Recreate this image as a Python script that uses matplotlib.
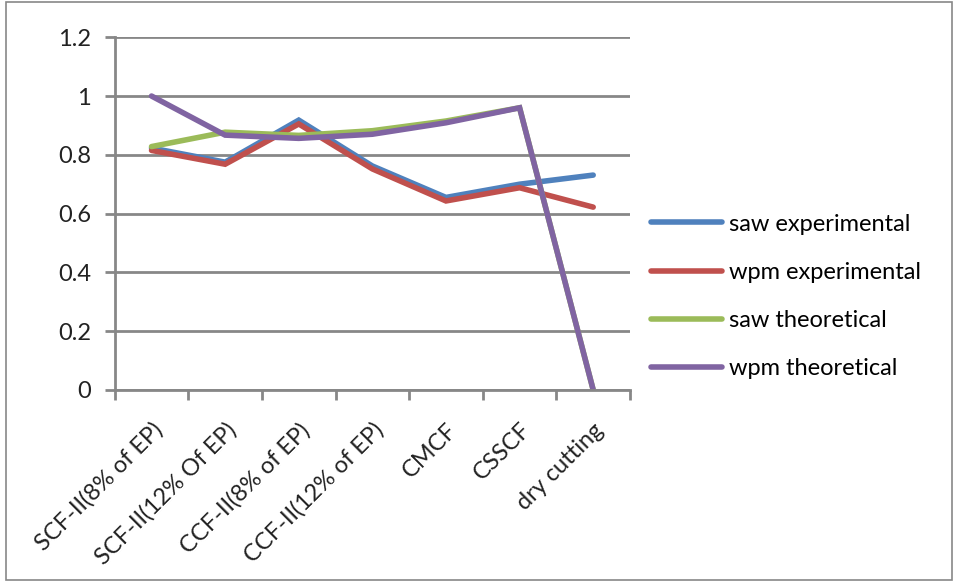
import matplotlib.pyplot as plt
from matplotlib.patches import Rectangle
from matplotlib.ticker import FixedLocator

categories = ["SCF-II(8% of EP)", "SCF-II(12% Of EP)", "CCF-II(8% of EP)",
              "CCF-II(12% of EP)", "CMCF", "CSSCF", "dry cutting"]
saw_exp = [0.823, 0.775, 0.918, 0.762, 0.655, 0.700, 0.731]
wpm_exp = [0.815, 0.768, 0.905, 0.752, 0.643, 0.688, 0.622]
saw_theo = [0.828, 0.877, 0.866, 0.882, 0.915, 0.960, 0.0]
wpm_theo = [1.0, 0.867, 0.856, 0.870, 0.909, 0.960, 0.0]
yticks = [0, 0.2, 0.4, 0.6, 0.8, 1.0, 1.2]
ytick_labels = ["0", "0.2", "0.4", "0.6", "0.8", "1", "1.2"]

series = [
    ("saw experimental", saw_exp, "#4F81BD"),
    ("wpm experimental", wpm_exp, "#C0504D"),
    ("saw theoretical", saw_theo, "#9BBB59"),
    ("wpm theoretical", wpm_theo, "#8064A2"),
]

plt.rcParams["font.family"] = ["Lato", "DejaVu Sans"]
fs = 17

fig = plt.figure(figsize=(9.56, 5.82), dpi=100)
ax = fig.add_axes([0.120, 0.330, 0.539, 0.606])

x = list(range(len(categories)))
for name, vals, col in series:
    ax.plot(x, vals, color=col, lw=4, label=name, solid_capstyle="round",
            solid_joinstyle="miter")

ax.set_xlim(-0.5, len(categories) - 0.5)
ax.set_ylim(0, 1.2)
ax.set_yticks(yticks)
ax.set_yticklabels(ytick_labels)
ax.grid(axis="y", color="#878787", lw=2)
ax.set_axisbelow(True)

ax.set_xticks(x)
ax.set_xticklabels(categories, rotation=45, ha="right", rotation_mode="anchor")
ax.tick_params(axis="x", which="major", length=0, pad=21, labelsize=fs,
               colors="#222222")
ax.xaxis.set_minor_locator(FixedLocator([i - 0.5 for i in range(len(categories) + 1)]))
ax.tick_params(axis="x", which="minor", length=7, width=2, color="#878787")
ax.tick_params(axis="y", length=7, width=2, color="#878787", labelsize=fs,
               labelcolor="#222222", pad=10)

for s in ["top", "right"]:
    ax.spines[s].set_visible(False)
for s in ["left", "bottom"]:
    ax.spines[s].set_color("#878787")
    ax.spines[s].set_linewidth(2)

leg = ax.legend(loc="center left", bbox_to_anchor=(1.0, 0.265), frameon=False,
                fontsize=fs, handlelength=3.0, handletextpad=0.3,
                labelspacing=1.15)
for line in leg.get_lines():
    line.set_linewidth(4)

fig.patches.append(Rectangle((0.006, 0.004), 0.99, 0.992, transform=fig.transFigure,
                             fill=False, edgecolor="#878787", lw=1.2))

fig.savefig("out.png", dpi=100)
